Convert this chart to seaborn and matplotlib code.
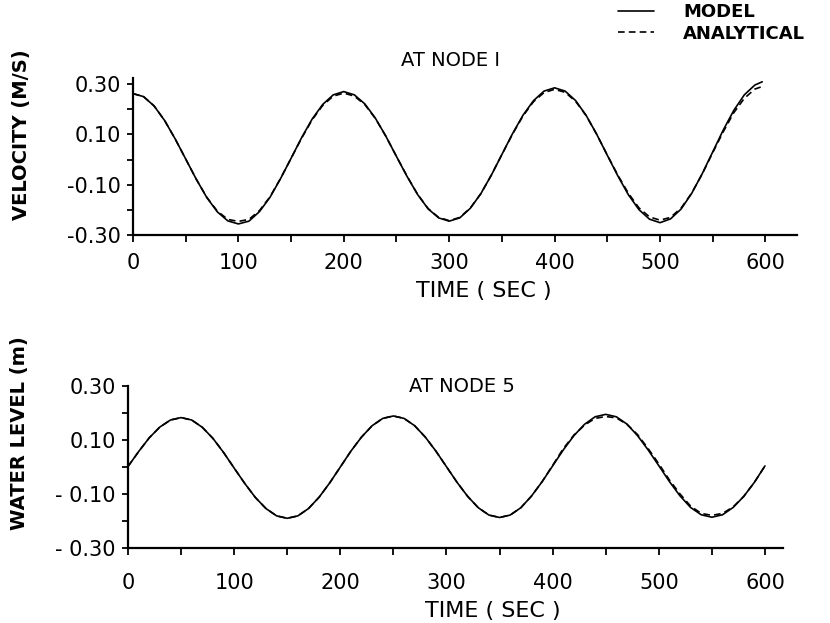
import matplotlib
matplotlib.use("Agg")
import matplotlib.pyplot as plt
import seaborn as sns
import numpy as np

# ---------------- data ----------------
time_s = [0, 10, 20, 30, 40, 50, 60, 70, 80, 90,
          100, 110, 120, 130, 140, 150, 160, 170, 180, 190,
          200, 210, 220, 230, 240, 250, 260, 270, 280, 290,
          300, 310, 320, 330, 340, 350, 360, 370, 380, 390,
          400, 410, 420, 430, 440, 450, 460, 470, 480, 490,
          500, 510, 520, 530, 540, 550, 560, 570, 580, 590, 597]

vel_model = [0.262, 0.250, 0.213, 0.155, 0.082, 0.002, -0.078, -0.151, -0.208, -0.244,
             -0.256, -0.245, -0.207, -0.150, -0.076, 0.005, 0.087, 0.161, 0.219, 0.257,
             0.270, 0.257, 0.221, 0.164, 0.092, 0.012, -0.067, -0.139, -0.196, -0.232,
             -0.245, -0.232, -0.194, -0.136, -0.062, 0.020, 0.102, 0.176, 0.234, 0.272,
             0.285, 0.272, 0.234, 0.175, 0.100, 0.017, -0.065, -0.140, -0.199, -0.237,
             -0.251, -0.236, -0.197, -0.135, -0.057, 0.030, 0.117, 0.195, 0.257, 0.296, 0.309]

vel_analytical = [0.262, 0.250, 0.213, 0.155, 0.082, 0.002, -0.078, -0.150, -0.205, -0.238,
                  -0.246, -0.238, -0.203, -0.148, -0.075, 0.005, 0.085, 0.158, 0.215, 0.252,
                  0.264, 0.252, 0.218, 0.163, 0.092, 0.012, -0.066, -0.138, -0.195, -0.230,
                  -0.243, -0.230, -0.193, -0.136, -0.062, 0.020, 0.100, 0.173, 0.230, 0.266,
                  0.279, 0.267, 0.231, 0.174, 0.100, 0.018, -0.062, -0.134, -0.192, -0.228,
                  -0.241, -0.230, -0.193, -0.134, -0.058, 0.027, 0.110, 0.186, 0.243, 0.280, 0.290]

lvl_time = [0, 10, 20, 30, 40, 50, 60, 70, 80, 90,
            100, 110, 120, 130, 140, 150, 160, 170, 180, 190,
            200, 210, 220, 230, 240, 250, 260, 270, 280, 290,
            300, 310, 320, 330, 340, 350, 360, 370, 380, 390,
            400, 410, 420, 430, 440, 450, 460, 470, 480, 490,
            500, 510, 520, 530, 540, 550, 560, 570, 580, 590, 600]

lvl_model = [0.002, 0.057, 0.108, 0.148, 0.174, 0.183, 0.174, 0.147, 0.106, 0.054,
             -0.004, -0.061, -0.113, -0.154, -0.181, -0.190, -0.181, -0.154, -0.112, -0.059,
             0.000, 0.059, 0.111, 0.153, 0.180, 0.189, 0.180, 0.153, 0.111, 0.059,
             0.001, -0.057, -0.109, -0.151, -0.178, -0.187, -0.178, -0.151, -0.108, -0.055,
             0.004, 0.063, 0.116, 0.158, 0.186, 0.195, 0.186, 0.159, 0.116, 0.063,
             0.005, -0.054, -0.107, -0.150, -0.177, -0.186, -0.177, -0.150, -0.109, -0.057, 0.004]

lvl_analytical = [0.002, 0.057, 0.108, 0.148, 0.174, 0.183, 0.174, 0.147, 0.106, 0.054,
                  -0.004, -0.061, -0.113, -0.154, -0.181, -0.190, -0.181, -0.154, -0.112, -0.059,
                  0.000, 0.059, 0.111, 0.153, 0.180, 0.189, 0.180, 0.153, 0.111, 0.059,
                  0.001, -0.057, -0.109, -0.151, -0.178, -0.187, -0.178, -0.151, -0.108, -0.055,
                  0.006, 0.068, 0.118, 0.155, 0.180, 0.187, 0.182, 0.158, 0.120, 0.068,
                  0.012, -0.048, -0.100, -0.145, -0.172, -0.179, -0.172, -0.148, -0.109, -0.057, 0.004]

vel_ticks = [-0.30, -0.20, -0.10, 0.0, 0.10, 0.20, 0.30]
vel_ticklabels = ["-0.30", "", "-0.10", "", "0.10", "", "0.30"]
lvl_ticks = [-0.30, -0.20, -0.10, 0.0, 0.10, 0.20, 0.30]
lvl_ticklabels = ["- 0.30", "", "- 0.10", "", "0.10", "", "0.30"]
x_ticks = [0, 50, 100, 150, 200, 250, 300, 350, 400, 450, 500, 550, 600]
x_ticklabels = ["0", "", "100", "", "200", "", "300", "", "400", "", "500", "", "600"]

# ---------------- style ----------------
sns.set_theme(style="ticks")
plt.rcParams["font.family"] = ["DejaVu Sans"]
plt.rcParams["text.color"] = "black"
plt.rcParams["axes.labelcolor"] = "black"
plt.rcParams["xtick.color"] = "black"
plt.rcParams["ytick.color"] = "black"

W, H = 830, 623
fig = plt.figure(figsize=(W / 100, H / 100), dpi=100)
fig.patch.set_facecolor("white")

ax1 = fig.add_axes([133 / W, 1 - 235 / H, (797 - 133) / W, (235 - 78) / H])
ax2 = fig.add_axes([128 / W, 1 - 548 / H, (783 - 128) / W, (548 - 386) / H])

lw = 1.2
dash = (4, 2.5)

sns.lineplot(x=time_s, y=vel_model, ax=ax1, color="black", lw=lw,
             estimator=None, sort=False, label="MODEL")
sns.lineplot(x=time_s, y=vel_analytical, ax=ax1, color="black", lw=lw,
             estimator=None, sort=False, label="ANALYTICAL")
ax1.lines[1].set_dashes(dash)

sns.lineplot(x=lvl_time, y=lvl_model, ax=ax2, color="black", lw=lw,
             estimator=None, sort=False)
sns.lineplot(x=lvl_time, y=lvl_analytical, ax=ax2, color="black", lw=lw,
             estimator=None, sort=False)
ax2.lines[1].set_dashes(dash)

handles, labels = ax1.get_legend_handles_labels()
if ax1.get_legend() is not None:
    ax1.get_legend().remove()

leg = fig.legend(handles, labels, loc="upper left",
                 bbox_to_anchor=(618 / W, 1 - 3 / H), frameon=False,
                 borderpad=0, borderaxespad=0, handlelength=2.0,
                 handletextpad=1.6, labelspacing=0.2,
                 prop={"size": 13, "weight": "bold"})
for t in leg.get_texts():
    t.set_color("black")

for ax, ylim, xlim, yt, ytl, xpad in [
    (ax1, (-0.30, 0.324), (0, 630), vel_ticks, vel_ticklabels, 8),
    (ax2, (-0.30, 0.30), (0, 617), lvl_ticks, lvl_ticklabels, 13),
]:
    ax.set_xlim(*xlim)
    ax.set_ylim(*ylim)
    ax.set_xticks(x_ticks)
    ax.set_xticklabels(x_ticklabels)
    ax.set_yticks(yt)
    ax.set_yticklabels(ytl)
    ax.set_xlabel("")
    ax.set_ylabel("")
    ax.set_facecolor("white")
    for s in ["top", "right"]:
        ax.spines[s].set_visible(False)
    for s in ["left", "bottom"]:
        ax.spines[s].set_linewidth(1.6)
        ax.spines[s].set_color("black")
    ax.tick_params(axis="x", direction="out", length=5, width=1.3,
                   pad=xpad, labelsize=15, colors="black")
    ax.tick_params(axis="y", direction="out", length=4, width=1.3,
                   pad=5, labelsize=15, colors="black")

# titles and axis labels
fig.text(450 / W, 1 - 60 / H, "AT NODE I", ha="center", va="center",
         fontsize=14, color="black")
fig.text(462 / W, 1 - 387 / H, "AT NODE 5", ha="center", va="center",
         fontsize=14, color="black")
fig.text(484 / W, 1 - 291 / H, "TIME ( SEC )", ha="center", va="center",
         fontsize=16, color="black")
fig.text(493 / W, 1 - 611 / H, "TIME ( SEC )", ha="center", va="center",
         fontsize=16, color="black")
fig.text(22 / W, 1 - 135 / H, "VELOCITY (M/S)", rotation=90, ha="center",
         va="center", fontsize=14, fontweight="bold", color="black")
fig.text(20 / W, 1 - 433 / H, "WATER LEVEL (m)", rotation=90, ha="center",
         va="center", fontsize=14, fontweight="bold", color="black")

fig.savefig("out.png", dpi=100, facecolor="white")
